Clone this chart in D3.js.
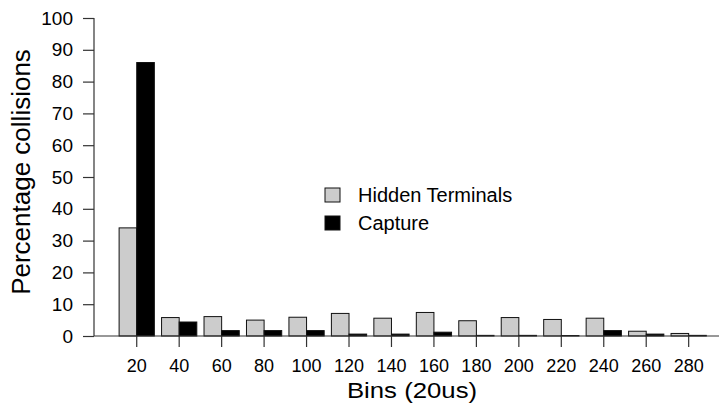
<!DOCTYPE html>
<html>
<head>
<meta charset="utf-8">
<script src="https://cdn.jsdelivr.net/npm/d3@7/dist/d3.min.js"></script>
<style>
  html, body { margin: 0; padding: 0; background: #fff; }
  svg { display: block; font-family: "Liberation Sans", Arial, Helvetica, sans-serif; }
</style>
</head>
<body>
<svg id="chart" width="721" height="405"></svg>
<script>
// Collision-interval histogram, 20us bins
const bins = [20, 40, 60, 80, 100, 120, 140, 160, 180, 200, 220, 240, 260, 280];
const hiddenTerminals = [34, 5.8, 6.1, 5.0, 5.9, 7.1, 5.6, 7.4, 4.8, 5.8, 5.2, 5.6, 1.5, 0.8];
const capture = [86, 4.4, 1.7, 1.7, 1.7, 0.6, 0.6, 1.2, 0.2, 0.2, 0.15, 1.7, 0.6, 0.2];
const yTicks = [0, 10, 20, 30, 40, 50, 60, 70, 80, 90, 100];
const seriesNames = ["Hidden Terminals", "Capture"];
const seriesFill = ["#cccccc", "#000000"];

const svg = d3.select("#chart");
const axisColor = "#333";
const font = "Liberation Sans, Arial, sans-serif";

const x = d3.scaleBand()
  .domain(bins)
  .range([115.5, 709.9])
  .padding(0);

const y = d3.scaleLinear()
  .domain([0, 100])
  .range([336, 18]);

const barW = x.bandwidth() * 0.415;
const cx = d => x(d) + x.bandwidth() / 2;

// bars: hidden terminals left of the tick, capture right of it
const g = svg.append("g");
const series = [hiddenTerminals, capture];
series.forEach((vals, si) => {
  g.selectAll(null)
    .data(bins.map((b, i) => ({ b, v: vals[i] })))
    .join("rect")
    .attr("x", d => si === 0 ? cx(d.b) - barW : cx(d.b))
    .attr("y", d => y(d.v))
    .attr("width", barW)
    .attr("height", d => y(0) - y(d.v))
    .attr("fill", seriesFill[si])
    .attr("stroke", "#111")
    .attr("stroke-width", 1);
});

// y axis
const yAxis = d3.axisLeft(y).tickValues(yTicks).tickSize(11).tickPadding(10);
const yg = svg.append("g").attr("transform", "translate(94,0)").call(yAxis);
yg.select(".domain").remove();
yg.append("line").attr("x1", 0).attr("x2", 0).attr("y1", y(100)).attr("y2", y(0))
  .attr("stroke", axisColor).attr("stroke-width", 1.2);
yg.selectAll(".tick line").attr("stroke", axisColor).attr("stroke-width", 1.2);
yg.selectAll(".tick text").attr("font-size", 19).attr("fill", "#000")
  .attr("font-family", font);

// x axis baseline and ticks
svg.append("line").attr("x1", 94).attr("x2", 719).attr("y1", y(0)).attr("y2", y(0))
  .attr("stroke", axisColor).attr("stroke-width", 1.2);
const xAxis = d3.axisBottom(x).tickSize(11).tickPadding(12);
const xg = svg.append("g").attr("transform", `translate(0,${y(0)})`).call(xAxis);
xg.select(".domain").remove();
xg.selectAll(".tick line").attr("stroke", axisColor).attr("stroke-width", 1.2);
xg.selectAll(".tick text").attr("font-size", 18).attr("fill", "#000")
  .attr("font-family", font);

// axis titles
svg.append("text")
  .attr("transform", "translate(30,172) rotate(-90)")
  .attr("text-anchor", "middle")
  .attr("font-size", 26)
  .text("Percentage collisions");

svg.append("text")
  .attr("transform", "translate(412,398) scale(1.12,1)")
  .attr("text-anchor", "middle")
  .attr("font-size", 23)
  .text("Bins (20us)");

// legend
const legend = svg.append("g").attr("transform", "translate(325,188)");
seriesNames.forEach((name, i) => {
  const row = legend.append("g").attr("transform", `translate(0,${i * 28})`);
  row.append("rect").attr("x", 0).attr("y", 0).attr("width", 15).attr("height", 14)
    .attr("fill", seriesFill[i]).attr("stroke", "#111").attr("stroke-width", 1);
  row.append("text").attr("x", 33).attr("y", 14).attr("font-size", 20).text(name);
});
</script>
</body>
</html>
